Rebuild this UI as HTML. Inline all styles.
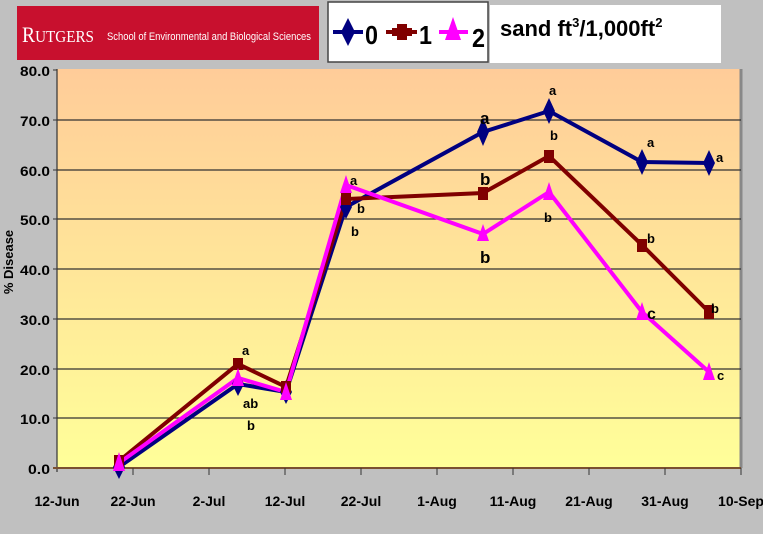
<!DOCTYPE html>
<html><head><style>
body{margin:0;background:#c0c0c0;width:763px;height:529px;overflow:hidden;font-family:"Liberation Sans",sans-serif}
</style></head><body>
<svg width="763" height="529" xmlns="http://www.w3.org/2000/svg" font-family="Liberation Sans, sans-serif">
<defs><linearGradient id="g" x1="0" y1="0" x2="0" y2="1"><stop offset="0" stop-color="#ffcc99"/><stop offset="1" stop-color="#ffff99"/></linearGradient></defs>
<rect width="763" height="529" fill="#c0c0c0"/>
<rect x="17" y="6" width="302" height="54" fill="#c8102e"/>
<text x="22" y="42" fill="#fff" font-family="Liberation Serif, serif" font-size="22" textLength="72" lengthAdjust="spacingAndGlyphs">R<tspan font-size="17">UTGERS</tspan></text>
<text x="107" y="40" fill="#fff" font-size="11" textLength="204" lengthAdjust="spacingAndGlyphs">School of Environmental and Biological Sciences</text>
<rect x="328" y="2" width="160" height="60" fill="#fff" stroke="#444" stroke-width="1.5"/>
<g stroke-width="4"><line x1="333" y1="32" x2="363" y2="32" stroke="#000080"/><line x1="386" y1="32" x2="417" y2="32" stroke="#800000"/><line x1="439" y1="32" x2="468" y2="32" stroke="#ff00ff"/></g>
<polygon points="348,18 355,32 348,46 341,32" fill="#000080"/>
<rect x="397" y="24" width="10" height="16" fill="#800000"/><rect x="392" y="28" width="20" height="8" fill="#800000"/>
<polygon points="453,17 461,40 445,40" fill="#ff00ff"/>
<g font-size="26" font-weight="bold"><text x="365" y="44" textLength="13" lengthAdjust="spacingAndGlyphs">0</text><text x="419" y="44" textLength="13" lengthAdjust="spacingAndGlyphs">1</text><text x="472" y="47" textLength="13" lengthAdjust="spacingAndGlyphs">2</text></g>
<rect x="490" y="5" width="231" height="58" fill="#fff"/>
<text x="500" y="36" font-size="22" font-weight="bold">sand ft<tspan font-size="13" dy="-9">3</tspan><tspan dy="9">/1,000ft</tspan><tspan font-size="13" dy="-9">2</tspan></text>
<rect x="57" y="69" width="684" height="399" fill="url(#g)"/>
<line x1="741" y1="69" x2="741" y2="468" stroke="#888" stroke-width="3"/>
<g stroke="#333" stroke-width="1.2">
<line x1="57" y1="120" x2="741" y2="120"/><line x1="57" y1="170" x2="741" y2="170"/><line x1="57" y1="219" x2="741" y2="219"/><line x1="57" y1="269" x2="741" y2="269"/><line x1="57" y1="319" x2="741" y2="319"/><line x1="57" y1="369" x2="741" y2="369"/><line x1="57" y1="418" x2="741" y2="418"/>
<line x1="57" y1="69" x2="57" y2="472"/><line x1="53" y1="468" x2="741" y2="468" stroke-width="2" stroke="#7a5030"/>
</g>
<g stroke="#333"><line x1="53" y1="70" x2="57" y2="70"/><line x1="53" y1="120" x2="57" y2="120"/><line x1="53" y1="170" x2="57" y2="170"/><line x1="53" y1="219" x2="57" y2="219"/><line x1="53" y1="269" x2="57" y2="269"/><line x1="53" y1="319" x2="57" y2="319"/><line x1="53" y1="369" x2="57" y2="369"/><line x1="53" y1="418" x2="57" y2="418"/>
<line x1="133" y1="468" x2="133" y2="475"/><line x1="209" y1="468" x2="209" y2="475"/><line x1="285" y1="468" x2="285" y2="475"/><line x1="361" y1="468" x2="361" y2="475"/><line x1="437" y1="468" x2="437" y2="475"/><line x1="513" y1="468" x2="513" y2="475"/><line x1="589" y1="468" x2="589" y2="475"/><line x1="665" y1="468" x2="665" y2="475"/><line x1="741" y1="468" x2="741" y2="475"/></g>
<g font-size="14" font-weight="bold" text-anchor="end">
<text x="50" y="76" textLength="30" lengthAdjust="spacingAndGlyphs">80.0</text><text x="50" y="126" textLength="30" lengthAdjust="spacingAndGlyphs">70.0</text><text x="50" y="176" textLength="30" lengthAdjust="spacingAndGlyphs">60.0</text><text x="50" y="225" textLength="30" lengthAdjust="spacingAndGlyphs">50.0</text><text x="50" y="275" textLength="30" lengthAdjust="spacingAndGlyphs">40.0</text><text x="50" y="325" textLength="30" lengthAdjust="spacingAndGlyphs">30.0</text><text x="50" y="375" textLength="30" lengthAdjust="spacingAndGlyphs">20.0</text><text x="50" y="424" textLength="30" lengthAdjust="spacingAndGlyphs">10.0</text><text x="50" y="474" textLength="22" lengthAdjust="spacingAndGlyphs">0.0</text></g>
<g font-size="14" font-weight="bold" text-anchor="middle">
<text x="57" y="506">12-Jun</text><text x="133" y="506">22-Jun</text><text x="209" y="506">2-Jul</text><text x="285" y="506">12-Jul</text><text x="361" y="506">22-Jul</text><text x="437" y="506">1-Aug</text><text x="513" y="506">11-Aug</text><text x="589" y="506">21-Aug</text><text x="665" y="506">31-Aug</text><text x="741" y="506">10-Sep</text></g>
<text transform="translate(13,262) rotate(-90)" font-size="13" font-weight="bold" text-anchor="middle">% Disease</text>
<polyline fill="none" stroke="#000080" stroke-width="4" points="119,467 238,384 286,392 346,207 483,132 549,111 642,162 709,163"/>
<polyline fill="none" stroke="#800000" stroke-width="4" points="119,461 238,364 286,387 346,199 483,193 549,156 642,245 709,312"/>
<polyline fill="none" stroke="#ff00ff" stroke-width="4" points="119,463 238,378 286,392 346,185 483,234 549,192 642,312 709,372"/>
<g fill="#000080"><polygon points="119,455 125,467 119,479 113,467"/><polygon points="238,372 244,384 238,396 232,384"/><polygon points="286,380 292,392 286,404 280,392"/><polygon points="346,195 352,207 346,219 340,207"/><polygon points="483,118 489,132 483,146 477,132"/><polygon points="549,98 555,111 549,124 543,111"/><polygon points="642,149 648,162 642,175 636,162"/><polygon points="709,150 715,163 709,176 703,163"/></g>
<g fill="#800000"><rect x="114" y="455" width="10" height="12"/><rect x="233" y="358" width="10" height="12"/><rect x="281" y="381" width="10" height="12"/><rect x="341" y="193" width="10" height="12"/><rect x="478" y="187" width="10" height="13"/><rect x="544" y="150" width="10" height="13"/><rect x="637" y="239" width="10" height="13"/><rect x="704" y="305" width="10" height="14"/></g>
<g fill="#ff00ff"><polygon points="119,452 125,471 113,471"/><polygon points="238,368 244,386 232,386"/><polygon points="286,382 292,400 280,400"/><polygon points="346,175 352,193 340,193"/><polygon points="483,224 489,241 477,241"/><polygon points="549,182 555,200 543,200"/><polygon points="642,302 648,320 636,320"/><polygon points="709,362 715,380 703,380"/></g>
<g font-size="13" font-weight="bold">
<text x="242" y="355">a</text><text x="243" y="408">ab</text><text x="247" y="430">b</text>
<text x="350" y="185">a</text><text x="357" y="213">b</text><text x="351" y="236">b</text>
<text x="480" y="124" font-size="17">a</text><text x="480" y="185" font-size="17">b</text><text x="480" y="263" font-size="17">b</text>
<text x="549" y="95">a</text><text x="550" y="140">b</text><text x="544" y="222">b</text>
<text x="647" y="147">a</text><text x="647" y="243">b</text><text x="647" y="319" font-size="16">c</text>
<text x="716" y="162">a</text><text x="711" y="313">b</text><text x="717" y="380">c</text></g>
</svg>
</body></html>
